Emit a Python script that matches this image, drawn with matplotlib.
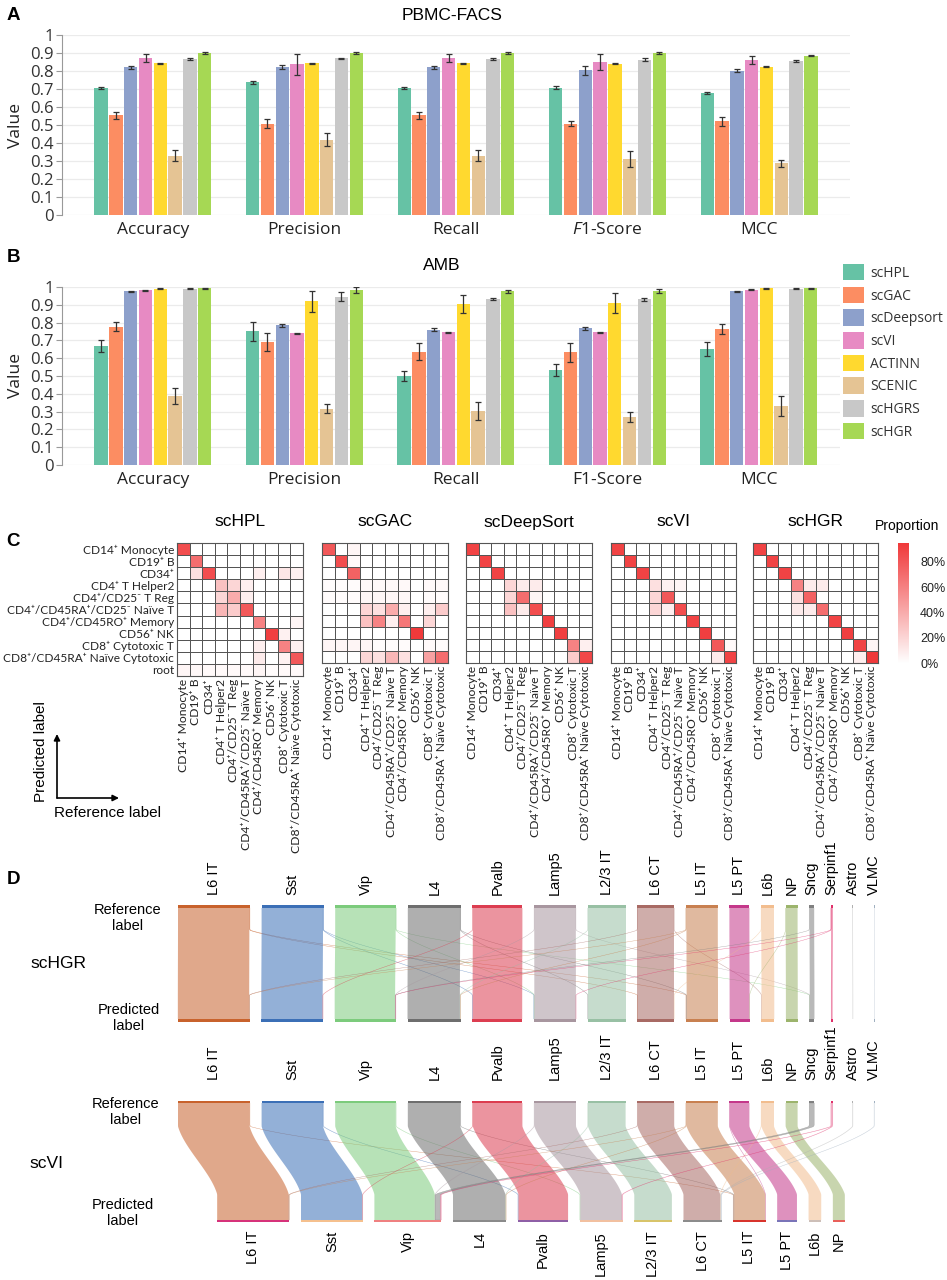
import numpy as np
import matplotlib
matplotlib.use("Agg")
import matplotlib.pyplot as plt
from matplotlib.patches import Rectangle, Polygon, Patch, FancyArrowPatch
from matplotlib.colors import LinearSegmentedColormap

plt.rcParams['font.family'] = ['Liberation Sans', 'DejaVu Sans']
plt.rcParams['mathtext.fontset'] = 'custom'
plt.rcParams['mathtext.it'] = 'Open Sans:italic'
plt.rcParams['mathtext.rm'] = 'Open Sans'

W, H = 947, 1280

# ---------------- data: panels A / B ----------------
methods = ["scHPL", "scGAC", "scDeepsort", "scVI", "ACTINN", "SCENIC", "scHGRS", "scHGR"]
method_colors = ["#66c2a5", "#fc8d62", "#8da0cb", "#e78ac3", "#ffd92f", "#e5c494", "#c8c8c8", "#a6d854"]
metrics_A = ["Accuracy", "Precision", "Recall", r"$\mathit{F1}$-Score", "MCC"]
metrics_B = ["Accuracy", "Precision", "Recall", "F1-Score", "MCC"]

pbmc_accuracy = [0.705, 0.553, 0.820, 0.870, 0.842, 0.330, 0.868, 0.900]
pbmc_accuracy_err = [0.007, 0.020, 0.010, 0.022, 0.003, 0.030, 0.005, 0.004]
pbmc_precision = [0.737, 0.506, 0.822, 0.837, 0.842, 0.418, 0.870, 0.901]
pbmc_precision_err = [0.007, 0.025, 0.010, 0.057, 0.003, 0.035, 0.005, 0.004]
pbmc_recall = [0.705, 0.553, 0.820, 0.870, 0.842, 0.330, 0.868, 0.900]
pbmc_recall_err = [0.007, 0.020, 0.010, 0.022, 0.003, 0.030, 0.005, 0.004]
pbmc_f1 = [0.708, 0.508, 0.805, 0.850, 0.840, 0.310, 0.862, 0.900]
pbmc_f1_err = [0.008, 0.015, 0.025, 0.045, 0.003, 0.045, 0.008, 0.004]
pbmc_mcc = [0.677, 0.522, 0.802, 0.860, 0.825, 0.287, 0.855, 0.886]
pbmc_mcc_err = [0.007, 0.025, 0.010, 0.022, 0.003, 0.020, 0.006, 0.005]

amb_accuracy = [0.670, 0.778, 0.975, 0.982, 0.990, 0.386, 0.990, 0.992]
amb_accuracy_err = [0.033, 0.025, 0.002, 0.002, 0.002, 0.045, 0.002, 0.002]
amb_precision = [0.752, 0.692, 0.784, 0.740, 0.920, 0.316, 0.946, 0.983]
amb_precision_err = [0.053, 0.050, 0.010, 0.002, 0.058, 0.025, 0.025, 0.017]
amb_recall = [0.500, 0.637, 0.761, 0.746, 0.904, 0.302, 0.932, 0.975]
amb_recall_err = [0.030, 0.048, 0.010, 0.003, 0.050, 0.050, 0.007, 0.008]
amb_f1 = [0.533, 0.633, 0.768, 0.745, 0.911, 0.270, 0.932, 0.976]
amb_f1_err = [0.033, 0.053, 0.008, 0.002, 0.057, 0.030, 0.008, 0.010]
amb_mcc = [0.652, 0.765, 0.976, 0.984, 0.992, 0.332, 0.990, 0.992]
amb_mcc_err = [0.038, 0.028, 0.002, 0.002, 0.002, 0.054, 0.002, 0.002]

# ---------------- data: panel C ----------------
pbmc_types = ["CD14⁺ Monocyte", "CD19⁺ B", "CD34⁺", "CD4⁺ T Helper2", "CD4⁺/CD25⁻ T Reg",
              "CD4⁺/CD45RA⁺/CD25⁻ Naïve T", "CD4⁺/CD45RO⁺ Memory", "CD56⁺ NK",
              "CD8⁺ Cytotoxic T", "CD8⁺/CD45RA⁺ Naïve Cytotoxic"]
extra_row = "root"
heat_titles = ["scHPL", "scGAC", "scDeepSort", "scVI", "scHGR"]
# rows = predicted label, cols = reference label
cm_schpl = [
    [0.85, 0, 0, 0, 0, 0, 0, 0, 0, 0],
    [0, 0.70, 0, 0, 0, 0, 0, 0, 0, 0],
    [0, 0.15, 0.85, 0, 0, 0, 0.08, 0, 0.12, 0.07],
    [0, 0, 0, 0.30, 0.20, 0.08, 0, 0, 0, 0],
    [0, 0, 0, 0.20, 0.40, 0.08, 0, 0, 0, 0],
    [0, 0, 0, 0.35, 0.25, 0.80, 0, 0, 0, 0],
    [0, 0, 0, 0, 0, 0, 0.60, 0, 0, 0.05],
    [0, 0, 0, 0, 0, 0, 0, 0.92, 0.07, 0],
    [0, 0, 0, 0, 0, 0, 0.08, 0, 0.60, 0.07],
    [0, 0, 0, 0, 0, 0, 0.10, 0, 0.07, 0.80],
    [0.05, 0.04, 0.03, 0.03, 0.03, 0.03, 0.05, 0.02, 0.03, 0.03],
]
cm_scgac = [
    [0.80, 0, 0.05, 0, 0, 0, 0, 0, 0, 0],
    [0, 0.85, 0.03, 0, 0, 0, 0, 0, 0, 0],
    [0, 0, 0.75, 0, 0, 0, 0, 0, 0, 0],
    [0.02, 0.02, 0.02, 0.03, 0.03, 0.03, 0.03, 0, 0.03, 0.03],
    [0.02, 0.02, 0.02, 0.04, 0.04, 0.04, 0.04, 0, 0.02, 0.02],
    [0, 0, 0, 0.20, 0.15, 0.40, 0.08, 0, 0.08, 0.25],
    [0, 0, 0, 0.30, 0.60, 0.08, 0.65, 0, 0.20, 0],
    [0, 0, 0, 0, 0, 0, 0, 0.95, 0, 0],
    [0.05, 0.05, 0.05, 0.05, 0.02, 0.02, 0.02, 0, 0.03, 0.02],
    [0, 0, 0, 0.20, 0.15, 0.35, 0.15, 0, 0.45, 0.70],
]
cm_scdeepsort = [
    [0.90, 0, 0, 0, 0, 0, 0, 0, 0, 0],
    [0, 0.90, 0, 0, 0, 0, 0, 0, 0, 0],
    [0, 0, 0.90, 0, 0, 0, 0, 0, 0, 0],
    [0, 0, 0, 0.20, 0.10, 0.10, 0, 0, 0, 0],
    [0, 0, 0, 0.20, 0.70, 0.05, 0, 0, 0, 0],
    [0, 0, 0, 0.30, 0.10, 0.85, 0, 0, 0, 0],
    [0, 0, 0, 0, 0, 0, 0.92, 0, 0, 0],
    [0, 0, 0, 0, 0, 0, 0, 0.92, 0, 0],
    [0, 0, 0, 0, 0, 0, 0, 0, 0.60, 0.08],
    [0, 0, 0, 0, 0, 0, 0, 0, 0.25, 0.88],
]
cm_scvi = [
    [0.90, 0, 0, 0, 0, 0, 0, 0, 0, 0],
    [0, 0.90, 0, 0, 0, 0, 0, 0, 0, 0],
    [0, 0, 0.90, 0, 0, 0, 0, 0, 0, 0],
    [0, 0, 0, 0.15, 0.07, 0.05, 0, 0, 0, 0],
    [0, 0, 0, 0.20, 0.80, 0, 0, 0, 0, 0],
    [0, 0, 0, 0.20, 0.08, 0.85, 0, 0, 0, 0],
    [0, 0, 0, 0, 0, 0, 0.90, 0, 0, 0],
    [0, 0, 0, 0, 0, 0, 0, 0.92, 0, 0],
    [0, 0, 0, 0, 0, 0, 0, 0, 0.80, 0.03],
    [0, 0, 0, 0, 0, 0, 0, 0, 0.10, 0.90],
]
cm_schgr = [
    [0.90, 0, 0, 0, 0, 0, 0, 0, 0, 0],
    [0, 0.90, 0, 0, 0, 0, 0, 0, 0, 0],
    [0, 0, 0.90, 0, 0, 0, 0, 0, 0, 0],
    [0, 0, 0, 0.60, 0.10, 0.10, 0, 0, 0, 0],
    [0, 0, 0, 0.15, 0.75, 0, 0, 0, 0, 0],
    [0, 0, 0, 0.10, 0.10, 0.70, 0, 0, 0, 0],
    [0, 0, 0, 0, 0, 0, 0.90, 0, 0, 0],
    [0, 0, 0, 0, 0, 0, 0, 0.92, 0, 0],
    [0, 0, 0, 0, 0, 0, 0, 0, 0.90, 0.05],
    [0, 0, 0, 0, 0, 0, 0, 0, 0.08, 0.95],
]
cbar_ticks = [0, 0.2, 0.4, 0.6, 0.8]
cbar_labels = ["0%", "20%", "40%", "60%", "80%"]

# ---------------- data: panel D ----------------
amb_types = ["L6 IT", "Sst", "Vip", "L4", "Pvalb", "Lamp5", "L2/3 IT", "L6 CT", "L5 IT",
             "L5 PT", "L6b", "NP", "Sncg", "Serpinf1", "Astro", "VLMC"]
amb_ref_cells = [1800, 1550, 1525, 1325, 1250, 1050, 950, 925, 800, 500, 325, 300, 125, 50, 15, 12]
amb_colors = ["#c8622c", "#3b6fb6", "#7ccb7c", "#6e6e6e", "#dc3d50", "#a8969f", "#98c0a4",
              "#a86a64", "#c88050", "#c4388a", "#f2bd8e", "#9cb46c", "#808080", "#e0306a",
              "#b0b0b0", "#a0b0c0"]
scvi_pred_colors = ["#d6327a", "#f5c08e", "#ef8080", "#8a8a8a", "#8e5fa6", "#f2c0a0", "#d8c46a",
                    "#8c8c8c", "#d8342c", "#7a74b8", "#cdbfb8", "#e8605a", "#808080", "#e0306a",
                    "#b0b0b0", "#a0b0c0"]
# off-diagonal (reference -> predicted, cells)
schgr_misassigned = [("L6 IT", "L5 IT", 10), ("L6 IT", "L6 CT", 6), ("Sst", "Pvalb", 10),
                     ("Sst", "Lamp5", 5), ("Vip", "Lamp5", 8), ("Vip", "Sncg", 6),
                     ("L4", "L5 IT", 10), ("L4", "L2/3 IT", 6), ("Pvalb", "Sst", 10),
                     ("Lamp5", "Vip", 6), ("Lamp5", "Sncg", 4), ("L2/3 IT", "L4", 8),
                     ("L6 CT", "L6 IT", 6), ("L6 CT", "L6b", 5), ("L5 IT", "L4", 10),
                     ("L5 IT", "L6 IT", 6), ("L6b", "L6 CT", 6), ("Sncg", "Vip", 8),
                     ("Serpinf1", "Vip", 6), ("Serpinf1", "Lamp5", 4), ("NP", "L5 PT", 3)]
scvi_misassigned = [("L6 IT", "L5 IT", 10), ("Sst", "Pvalb", 15), ("Vip", "Lamp5", 15),
                    ("L4", "L5 IT", 15), ("Pvalb", "Sst", 10), ("Lamp5", "Vip", 10),
                    ("L2/3 IT", "L4", 10), ("L6 CT", "L6 IT", 8), ("L5 IT", "L4", 12),
                    ("L5 IT", "L6 IT", 8), ("L6b", "L6 CT", 8), ("L5 PT", "L5 IT", 5),
                    ("Sncg", "Vip", 125), ("Serpinf1", "Vip", 30), ("Serpinf1", "Lamp5", 20),
                    ("Astro", "L6 CT", 15), ("VLMC", "L6 CT", 12)]

# ---------------- figure ----------------
fig = plt.figure(figsize=(W / 100, H / 100), dpi=100)


def px_axes(x0, y0, x1, y1):
    return fig.add_axes([x0 / W, 1 - y1 / H, (x1 - x0) / W, (y1 - y0) / H])


def ftext(x, y, s, **kw):
    fig.text(x / W, 1 - y / H, s, **kw)


# overlay axes in pixel coordinates (for panel D and annotations)
axp = fig.add_axes([0, 0, 1, 1])
axp.set_xlim(0, W)
axp.set_ylim(H, 0)
axp.axis('off')
axp.patch.set_alpha(0)

OS = ['Open Sans', 'DejaVu Sans']


def bar_panel(ax, vals, errs, labels, xright):
    slot, bw = 0.0977, 0.088
    x = np.arange(len(labels))
    for m in range(len(methods)):
        hv = [v[m] for v in vals]
        ev = [e[m] for e in errs]
        ax.bar(x + (m - 3.5) * slot, hv, width=bw, color=method_colors[m], yerr=ev,
               error_kw=dict(ecolor='#333333', elinewidth=0.9, capsize=2.2, capthick=0.9),
               zorder=3, label=methods[m])
    ax.set_xlim(-0.6, xright)
    ax.set_ylim(0, 1)
    yt = np.round(np.arange(0, 1.01, 0.1), 1)
    ax.set_yticks(yt)
    ax.set_yticklabels(['0' if t == 0 else ('1' if t == 1 else f'{t:g}') for t in yt],
                       family=OS, fontsize=12, color='#333333')
    ax.set_xticks(x)
    ax.set_xticklabels(labels, family=OS, fontsize=12.5, color='#222222')
    ax.yaxis.grid(True, color='#ebebeb', lw=0.9)
    ax.set_axisbelow(True)
    for s in ['top', 'right', 'bottom']:
        ax.spines[s].set_visible(False)
    ax.spines['left'].set_color('#999999')
    ax.tick_params(axis='y', length=4, color='#999999', pad=2)
    ax.tick_params(axis='x', length=0, pad=5)
    ax.set_ylabel('Value', family=OS, fontsize=12.5, color='#222222', labelpad=4)


axA = px_axes(62, 35, 850, 215)
bar_panel(axA, [pbmc_accuracy, pbmc_precision, pbmc_recall, pbmc_f1, pbmc_mcc],
          [pbmc_accuracy_err, pbmc_precision_err, pbmc_recall_err, pbmc_f1_err, pbmc_mcc_err],
          metrics_A, 4.6)
axB = px_axes(62, 287, 840, 465)
bar_panel(axB, [amb_accuracy, amb_precision, amb_recall, amb_f1, amb_mcc],
          [amb_accuracy_err, amb_precision_err, amb_recall_err, amb_f1_err, amb_mcc_err],
          metrics_B, -0.6 + (840 - 62) / 151.5)
ftext(452, 16, "PBMC-FACS", ha='center', va='center', fontsize=12.5)
ftext(442, 265, "AMB", ha='center', va='center', fontsize=12.5)
handles = [Patch(facecolor=c, edgecolor='none', label=m) for m, c in zip(methods, method_colors)]
leg = axB.legend(handles=handles, loc='upper left', bbox_to_anchor=(843 / W, 1 - 264 / H),
                 bbox_transform=fig.transFigure, frameon=False, handlelength=1.5,
                 handleheight=1.45, handletextpad=0.45, labelspacing=0.42, borderaxespad=0,
                 borderpad=0, prop={'family': OS, 'size': 10})
for t in leg.get_texts():
    t.set_color('#333333')

for lab, (x, y) in zip("ABCD", [(13, 15), (13, 258), (13, 542), (13, 880)]):
    ftext(x, y, lab, ha='center', va='center', fontsize=13.5, fontweight='bold')

# ---------------- panel C ----------------
cmap = LinearSegmentedColormap.from_list("wr", ["#ffffff", "#f0393a"])
VMAX = 0.95
LF = ['Lato', 'DejaVu Sans']
heat_boxes = [(177, 303, 676), (322, 448, 663), (466, 592, 663), (611, 736, 663), (753, 878, 663)]
mats = [cm_schpl, cm_scgac, cm_scdeepsort, cm_scvi, cm_schgr]
for k, (mat, (x0, x1, y1), title) in enumerate(zip(mats, heat_boxes, heat_titles)):
    ax = px_axes(x0, 543, x1, y1)
    arr = np.array(mat, float)
    nr = arr.shape[0]
    ax.pcolormesh(arr, cmap=cmap, vmin=0, vmax=VMAX, edgecolors='#555555', linewidth=0.6)
    ax.set_xlim(0, 10)
    ax.set_ylim(nr, 0)
    ax.set_xticks(np.arange(10) + 0.5)
    ax.set_xticklabels(pbmc_types, rotation=90, family=LF, fontsize=8.7, color='#222222')
    if k == 0:
        ax.set_yticks(np.arange(nr) + 0.5)
        ax.set_yticklabels(pbmc_types + [extra_row], family=LF, fontsize=8.6, color='#222222')
    else:
        ax.set_yticks([])
    ax.tick_params(length=0, pad=2)
    for s in ax.spines.values():
        s.set_color('#555555')
        s.set_linewidth(0.8)
    ftext((x0 + x1) / 2, 522, title, ha='center', va='center', fontsize=12.5)

axc = px_axes(898, 543, 909, 663)
grad = np.linspace(0, VMAX, 256)[:, None]
axc.imshow(grad, aspect='auto', cmap=cmap, vmin=0, vmax=VMAX, origin='lower',
           extent=[0, 1, 0, VMAX])
axc.set_xticks([])
axc.yaxis.tick_right()
axc.set_yticks(cbar_ticks)
axc.set_yticklabels(cbar_labels, fontsize=9, color='#222222')
axc.tick_params(length=0, pad=8)
for s in axc.spines.values():
    s.set_visible(False)
ftext(907, 526, "Proportion", ha='center', va='center', fontsize=10)

# axis-orientation arrows
axp.add_patch(FancyArrowPatch((57, 798), (57, 734), arrowstyle='-|>', mutation_scale=9,
                              lw=1.2, color='black', shrinkA=0, shrinkB=0))
axp.add_patch(FancyArrowPatch((57, 798), (119, 798), arrowstyle='-|>', mutation_scale=9,
                              lw=1.2, color='black', shrinkA=0, shrinkB=0))
axp.text(41, 752, "Predicted label", rotation=90, ha='center', va='center', fontsize=11)
axp.text(108, 813, "Reference label", ha='center', va='center', fontsize=11)

# ---------------- panel D ----------------
K = 0.04       # px per cell
GAP = 11.6
MINSLOT = 10
X0 = 178


def ribbon(ax, xa0, xa1, xb0, xb1, y0, y1, color, alpha, lw=0.0):
    u = np.linspace(0, 1, 80)
    v = np.clip((u - 0.2) / 0.58, 0, 1)
    s = 0.5 * v + 0.5 * v * v * (3 - 2 * v)
    y = y0 + (y1 - y0) * u
    left = xa0 + (xb0 - xa0) * s
    right = xa1 + (xb1 - xa1) * s
    pts = np.vstack([np.column_stack([left, y]), np.column_stack([right[::-1], y[::-1]])])
    ax.add_patch(Polygon(pts, closed=True, facecolor=color, alpha=alpha,
                         edgecolor=color if lw > 0 else 'none', lw=lw))


def layout(tot, start):
    lefts = {}
    x = start
    for i, t in enumerate(tot):
        if t <= 0:
            continue
        lefts[i] = x
        x += max(t * K, MINSLOT) + GAP
    return lefts, x - GAP - start


def draw_sankey(ax, misassigned, y_top, y_bot, cap, pred_colors, ref_lab_y, pred_lab_y):
    n = len(amb_types)
    idx = {c: i for i, c in enumerate(amb_types)}
    M = np.diag(np.array(amb_ref_cells, float))
    for s, d, v in misassigned:
        M[idx[s], idx[s]] -= v
        M[idx[s], idx[d]] += v
    ref_tot = M.sum(1)
    pred_tot = M.sum(0)
    rl, rspan = layout(ref_tot, X0)
    _, pspan = layout(pred_tot, 0)
    pl, _ = layout(pred_tot, X0 + (rspan - pspan) / 2)
    out_x = dict(rl)
    in_x = dict(pl)
    for i in range(n):
        for j in range(n):
            v = M[i, j]
            if v <= 0:
                continue
            w = v * K
            if i == j:
                ribbon(ax, out_x[i], out_x[i] + w, in_x[j], in_x[j] + w, y_top + cap, y_bot,
                       amb_colors[i], 0.55)
            else:
                ribbon(ax, out_x[i], out_x[i] + w, in_x[j], in_x[j] + w, y_top + cap, y_bot,
                       amb_colors[i], 0.3 if w < 2 else 0.55, lw=0.3)
            out_x[i] += w
            in_x[j] += w
    for i in rl:
        w = ref_tot[i] * K
        ax.add_patch(Rectangle((rl[i], y_top), max(w, 0.6), cap, facecolor=amb_colors[i],
                               edgecolor='none'))
        ax.text(rl[i] + w / 2, ref_lab_y, amb_types[i], rotation=90, ha='center',
                va='bottom', fontsize=10.5)
    for j in pl:
        w = pred_tot[j] * K
        ax.add_patch(Rectangle((pl[j], y_bot), max(w, 0.6), cap, facecolor=pred_colors[j],
                               edgecolor='none'))
        if pred_lab_y is not None:
            ax.text(pl[j] + w / 2, pred_lab_y, amb_types[j], rotation=90, ha='center',
                    va='top', fontsize=10.5)


draw_sankey(axp, schgr_misassigned, 905, 1019, 3, amb_colors, 895, None)
draw_sankey(axp, scvi_misassigned, 1101, 1220, 2, scvi_pred_colors, 1080, 1231)

axp.text(128, 918, "Reference\nlabel", ha='center', va='center', fontsize=10.5,
         linespacing=1.25)
axp.text(129, 1018, "Predicted\nlabel", ha='center', va='center', fontsize=10.5,
         linespacing=1.25)
axp.text(58, 963, "scHGR", ha='center', va='center', fontsize=12.5)
axp.text(126, 1112, "Reference\nlabel", ha='center', va='center', fontsize=10.5,
         linespacing=1.25)
axp.text(123, 1213, "Predicted\nlabel", ha='center', va='center', fontsize=10.5,
         linespacing=1.25)
axp.text(46, 1163, "scVI", ha='center', va='center', fontsize=12.5)

fig.savefig("out.png", dpi=100)
